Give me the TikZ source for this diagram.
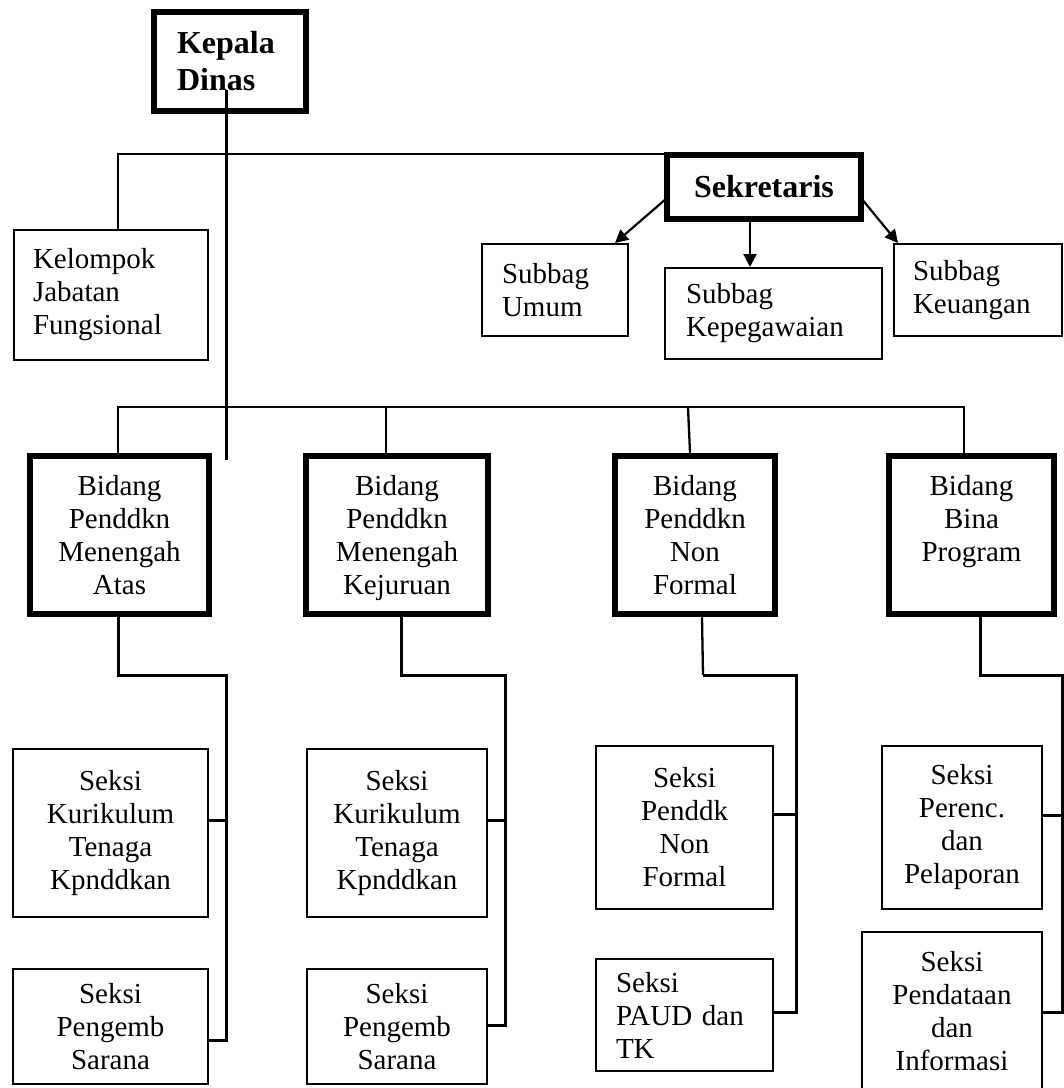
\documentclass[tikz,border=0pt]{standalone}
\usepackage{fontspec}
\setmainfont{Liberation Serif}
\usetikzlibrary{arrows.meta}
\newcommand\nfnt{\fontsize{14.5}{16.5}\selectfont}
\newcommand\bfnt{\fontsize{16}{18.5}\selectfont\bfseries}
\begin{document}
\begin{tikzpicture}[x=0.5pt,y=-0.5pt,
  kbox/.style={draw, line width=3.25pt, inner sep=0pt, align=center, font=\bfnt},
  bbox/.style={draw, line width=3.25pt, inner sep=0pt, align=center, font=\nfnt},
  sbox/.style={draw, line width=1pt, inner sep=0pt, align=center, font=\nfnt},
  conn/.style={line width=1.15pt},
  branch/.style={line width=1.5pt},
  arr/.style={line width=1.1pt, -{Triangle[length=6.5pt,width=6.5pt]}}]
\useasboundingbox (0,0) rectangle (1064,1088);
\clip (0,0) rectangle (1064,1088);
\fill[white] (0,0) rectangle (1064,1088);

% top level
\node[kbox, align=left, minimum height=49.5pt, text width=53pt, inner xsep=11.5pt] (kd) at (230,61.5) {Kepala\\Dinas};
\node[kbox, minimum width=97pt, minimum height=32pt] (sk) at (764,187) {Sekretaris};
\node[sbox, align=left, minimum height=65pt, text width=78pt, inner xsep=9.5pt] (kg) at (111,295) {Kelompok\\Jabatan\\Fungsional};
\node[sbox, align=left, minimum height=46pt, text width=53pt, inner xsep=10pt] (su) at (555,290) {Subbag\\Umum};
\node[sbox, align=left, minimum height=45.5pt, text width=87.5pt, inner xsep=10.5pt] (sp) at (773.5,313.5) {Subbag\\Kepegawaian};
\node[sbox, align=left, minimum height=46pt, text width=65pt, inner xsep=9.5pt] (sq) at (978,290) {Subbag\\Keuangan};

% bidang
\node[bbox, minimum width=89.5pt, minimum height=79pt] (b1) at (119.5,535) {Bidang\\Penddkn\\Menengah\\Atas};
\node[bbox, minimum width=91pt, minimum height=79pt, text depth=0pt] (b2) at (397,535) {Bidang\\Penddkn\\Menengah\\Kejuruan};
\node[bbox, minimum width=80pt, minimum height=79pt] (b3) at (695,535) {Bidang\\Penddkn\\Non\\Formal};
\node[bbox, minimum width=82.5pt, minimum height=79pt] (b4) at (971.5,535) {Bidang\\Bina\\Program\\~};

% seksi
\node[sbox, minimum width=97.5pt, minimum height=84pt] (k1) at (110.5,833) {Seksi\\Kurikulum\\Tenaga\\Kpnddkan};
\node[sbox, minimum width=97.5pt, minimum height=57.5pt] (p1) at (110.5,1026.5) {Seksi\\Pengemb\\Sarana};
\node[sbox, minimum width=90pt, minimum height=84pt] (k2) at (397,833) {Seksi\\Kurikulum\\Tenaga\\Kpnddkan};
\node[sbox, minimum width=90pt, minimum height=57.5pt] (p2) at (397,1026.5) {Seksi\\Pengemb\\Sarana};
\node[sbox, minimum width=88.5pt, minimum height=81.5pt] (n3) at (684.5,827.5) {Seksi\\Penddk\\Non\\Formal};
\node[sbox, align=left, minimum height=56pt, text width=68.5pt, inner xsep=10pt] (pa) at (684.5,1015) {Seksi\\PAUD dan\\TK};
\node[sbox, minimum width=80pt, minimum height=81.5pt] (pr) at (962,827.5) {Seksi\\Perenc.\\dan\\Pelaporan};
\node[sbox, minimum width=90pt, minimum height=79pt] (pd) at (952,1011) {Seksi\\Pendataan\\dan\\Informasi};

% Kepala vertical line
\coordinate (kdtop) at (226,90);
\coordinate (kdend) at (226,460);
\draw[branch] (kdtop) -- (kdend);

% first bar
\coordinate (bar1) at (118,154);
\draw[conn] (bar1 |- kg.north) -- (bar1) -- (bar1 -| sk.west);

% arrows from Sekretaris
\coordinate (al) at (667,198);
\coordinate (ar) at (861,198);
\draw[arr] (al) -- (615,243);
\draw[arr] (sk.south -| sp.north) ++(-23.5,0) coordinate (am) -- (am |- sp.north);
\draw[arr] (ar) -- (898,243);

% second bar
\coordinate (bar2L) at (118,407);
\coordinate (bar2R) at (964,407);
\coordinate (s2) at (386,407);
\coordinate (s3) at (688,407);
\draw[conn] (bar2L |- b1.north) -- (bar2L) -- (bar2R) -- (bar2R |- b4.north);
\draw[conn] (s2) -- (s2 |- b2.north);
\draw[conn] (s3) -- ([xshift=1pt]s3 |- b3.north);

% column 1
\coordinate (c1) at (226,675);
\coordinate (c1a) at (226,820);
\coordinate (c1b) at (226,1040);
\draw[branch] ([xshift=-0.75pt]b1.south) |- (c1) -- (c1b) -- (c1b -| p1.east);
\draw[branch] (c1a) -- (c1a -| k1.east);

% column 2
\coordinate (c2) at (505,675);
\coordinate (c2a) at (505,820);
\coordinate (c2b) at (505,1025);
\draw[branch] ([xshift=2pt]b2.south) |- (c2) -- (c2b) -- (c2b -| p2.east);
\draw[branch] (c2a) -- (c2a -| k2.east);

% column 3
\coordinate (c3) at (796,675);
\coordinate (c3a) at (796,814);
\coordinate (c3b) at (796,1012);
\coordinate (c3s) at (703,675);
\draw[conn] ([xshift=3.5pt]b3.south) -- (c3s);
\draw[branch] (c3s) -- (c3) -- (c3b) -- (c3b -| pa.east);
\draw[branch] (c3a) -- (c3a -| n3.east);

% column 4
\coordinate (c4) at (1062,675);
\coordinate (c4a) at (1062,815);
\coordinate (c4b) at (1062,1012);
\draw[branch] ([xshift=4.25pt]b4.south) |- (c4) -- (c4b) -- (c4b -| pd.east);
\draw[branch] (c4a) -- (c4a -| pr.east);
\end{tikzpicture}
\end{document}
